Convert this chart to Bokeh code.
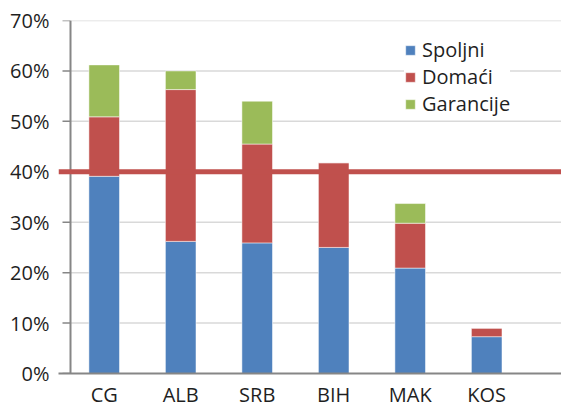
from bokeh.plotting import figure
from bokeh.models import Range1d, FixedTicker, PrintfTickFormatter, Span, ColumnDataSource
from bokeh.embed import file_html
from bokeh.resources import INLINE

# ---- data ----
countries = ["CG", "ALB", "SRB", "BIH", "MAK", "KOS"]
spoljni = [39.1, 26.2, 25.9, 25.0, 20.9, 7.3]
domaci = [11.8, 30.1, 19.6, 16.8, 8.9, 1.7]
garancije = [10.3, 3.7, 8.5, 0.0, 3.9, 0.0]
series_names = ["Spoljni", "Domaći", "Garancije"]
series_keys = ["spoljni", "domaci", "garancije"]
series_colors = ["#4F81BD", "#C0504D", "#9BBB59"]
threshold = 40
y_ticks = [0, 10, 20, 30, 40, 50, 60, 70]

# ---- layout constants ----
W, H = 561, 410
BORDER_L = 58
PX_PER_UNIT = 76.5
X_START = 1 - 45.7 / PX_PER_UNIT
X_END = X_START + (W - BORDER_L) / PX_PER_UNIT
AXIS_X = X_START + 12 / PX_PER_UNIT
TICK_LEN = 8 / PX_PER_UNIT
FONT = "Open Sans"
FS = "20px"
TXT = "#1f1f1f"
AXIS_C = "#868686"

xs = list(range(1, len(countries) + 1))
src = ColumnDataSource(dict(x=xs, spoljni=spoljni, domaci=domaci, garancije=garancije))

p = figure(width=W, height=H, output_backend="svg", toolbar_location=None,
           x_range=Range1d(X_START, X_END), y_range=Range1d(y_ticks[0], y_ticks[-1]),
           min_border_left=BORDER_L, min_border_right=0, min_border_top=20,
           min_border_bottom=0)
p.outline_line_color = None
p.xgrid.visible = False
p.ygrid.visible = False

# grid lines, y axis line and ticks
p.segment(x0=AXIS_X, x1=X_END, y0=y_ticks[1:], y1=y_ticks[1:],
          line_color="#d9d9d9", line_width=1.5)
p.segment(x0=AXIS_X - TICK_LEN, x1=AXIS_X, y0=y_ticks, y1=y_ticks,
          line_color=AXIS_C, line_width=1.5)

p.vbar_stack(series_keys, x="x", width=0.4, color=series_colors, source=src,
             line_color="white", line_alpha=0.5, line_width=1,
             legend_label=series_names)

p.segment(x0=[AXIS_X], x1=[AXIS_X], y0=[y_ticks[0]], y1=[y_ticks[-1]],
          line_color=AXIS_C, line_width=2)

p.add_layout(Span(location=threshold, dimension="width",
                  line_color="#C0504D", line_width=5))

# axes
p.yaxis.ticker = FixedTicker(ticks=y_ticks)
p.yaxis.formatter = PrintfTickFormatter(format="%d%%")
p.yaxis.axis_line_color = None
p.yaxis.major_tick_out = 0
p.yaxis.major_tick_in = 0
p.yaxis.minor_tick_line_color = None
p.yaxis.major_label_standoff = 9

p.xaxis.ticker = FixedTicker(ticks=xs)
p.xaxis.major_label_overrides = {x: c for x, c in zip(xs, countries)}
p.xaxis.axis_line_color = AXIS_C
p.xaxis.axis_line_width = 2
p.xaxis.major_tick_out = 0
p.xaxis.major_tick_in = 0
p.xaxis.minor_tick_line_color = None
p.xaxis.major_label_standoff = 7

for ax in (p.xaxis, p.yaxis):
    ax.major_label_text_font = FONT
    ax.major_label_text_font_size = FS
    ax.major_label_text_color = TXT

lg = p.legend[0]
lg.location = (346, 256)
lg.border_line_color = None
lg.background_fill_color = "white"
lg.background_fill_alpha = 1
lg.padding = 3
lg.margin = 0
lg.spacing = 0
lg.glyph_width = 12
lg.glyph_height = 12
lg.label_height = 20
lg.label_standoff = 6
lg.label_text_font = FONT
lg.label_text_font_size = FS
lg.label_text_color = TXT

open("out.html", "w").write(file_html(p, INLINE))
